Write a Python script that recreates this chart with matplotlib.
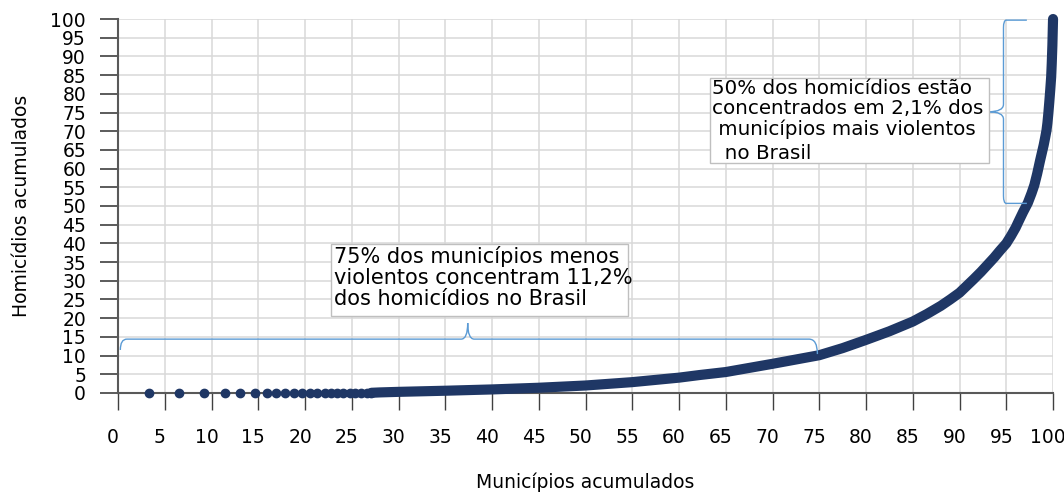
import matplotlib.pyplot as plt
from matplotlib.path import Path
from matplotlib.patches import PathPatch, Rectangle
from matplotlib.transforms import ScaledTranslation

# pontos isolados no inicio da curva (homicidios ~ 0)
dots_x = [3.35, 6.56, 9.2, 11.4, 13.1, 14.6, 15.9, 16.9, 17.9, 18.8, 19.7,
          20.5, 21.3, 22.1, 22.8, 23.4, 24.1, 24.8, 25.4, 26.0, 26.6, 27.1]
dots_y = [0.0] * len(dots_x)

# parte densa da curva
curve_x = [27.1, 28.0, 30, 35, 40, 45, 50, 55, 60, 62.2, 65, 70, 75, 77.5, 80,
           82.5, 85, 86.5, 88, 89, 90, 91.5, 92.3, 93, 93.7, 94.3, 95, 95.5,
           96, 96.3, 96.8, 97.3, 97.7, 98, 98.3, 98.6, 99.0, 99.15, 99.3, 99.4,
           99.5, 99.6, 99.7, 99.8, 99.86, 99.93, 100]
curve_y = [0.05, 0.15, 0.3, 0.6, 0.95, 1.4, 2.0, 2.9, 4.1, 4.8, 5.6, 7.8, 10.1,
           12.0, 14.2, 16.5, 19.1, 21.1, 23.3, 25.0, 26.8, 30.4, 32.4, 34.3,
           36.2, 38.0, 40.0, 42.0, 44.2, 45.8, 48.4, 50.8, 53.4, 55.6, 58.6,
           62.0, 66.3, 68.2, 70.2, 72.2, 74.8, 77.8, 81.0, 84.5, 88.0, 93.0, 100]

ticks = list(range(0, 101, 5))

txt_municipios = '75% dos municípios menos\nviolentos concentram 11,2%\ndos homicídios no Brasil'
txt_homicidios = '50% dos homicídios estão\nconcentrados em 2,1% dos\n municípios mais violentos'
txt_brasil = '  no Brasil'

navy = '#1F3765'
brace_c = '#5B9BD5'
grid_c = '#D9D9D9'
axis_c = '#595959'

plt.rcParams['font.family'] = 'DejaVu Sans'

fig = plt.figure(figsize=(10.64, 4.94), dpi=100)
ax = fig.add_axes([0.1109, 0.2045, 0.8788, 0.757])

ax.set_xlim(0, 100)
ax.set_ylim(0, 100)
ax.set_xticks(ticks)
ax.set_yticks(ticks)
ax.grid(True, color=grid_c, linewidth=1.1)
ax.set_axisbelow(True)
for s in ['top', 'right']:
    ax.spines[s].set_visible(False)
for s in ['left', 'bottom']:
    ax.spines[s].set_color(axis_c)
    ax.spines[s].set_linewidth(1.5)
ax.tick_params(axis='x', direction='out', length=12.5, width=1, color='#404040',
               pad=13, labelsize=13.5, labelcolor='black')
ax.tick_params(axis='y', direction='out', length=13, width=1.2, color='#404040',
               pad=10, labelsize=13.5, labelcolor='black')
# rotulos do eixo x levemente deslocados para a esquerda
for lbl in ax.get_xticklabels():
    lbl.set_transform(lbl.get_transform() + ScaledTranslation(-5 / 100, 0, fig.dpi_scale_trans))

ax.set_xlabel('Municípios acumulados', fontsize=13.5, labelpad=18)
ax.set_ylabel('Homicídios acumulados', fontsize=13.5, labelpad=14)

# curva
ax.plot(dots_x, dots_y, 'o', color=navy, markersize=6, clip_on=False, zorder=3)
ax.plot(curve_x, curve_y, '-', color=navy, linewidth=7.3, solid_capstyle='round',
        solid_joinstyle='round', clip_on=False, zorder=3)

# chave horizontal (75% dos municipios)
y0, r, ry = 14.4, 0.7, 2.0
tip = 37.4
verts = [(0.25, 11.5), (0.25, y0), (0.25 + r, y0),
         (tip - r, y0), (tip, y0), (tip, 18.7),
         (tip, y0), (tip + r, y0),
         (74.6 - r, y0), (74.8, y0), (74.8, 10.4)]
codes = [Path.MOVETO, Path.CURVE3, Path.CURVE3,
         Path.LINETO, Path.CURVE3, Path.CURVE3,
         Path.CURVE3, Path.CURVE3,
         Path.LINETO, Path.CURVE3, Path.CURVE3]
ax.add_patch(PathPatch(Path(verts, codes), fill=False, edgecolor=brace_c,
                       linewidth=1.0, zorder=4))

# chave vertical (50% dos homicidios)
bx, rx = 94.7, 0.3
verts = [(97.2, 99.7), (bx + rx, 99.7), (bx, 99.7), (bx, 99.7 - ry),
         (bx, 75.2 + ry), (bx, 75.2), (93.1, 75.2),
         (bx, 75.2), (bx, 75.2 - ry),
         (bx, 50.7 + ry), (bx, 50.7), (bx + rx, 50.7), (97.2, 50.7)]
codes = [Path.MOVETO, Path.LINETO, Path.CURVE3, Path.CURVE3,
         Path.LINETO, Path.CURVE3, Path.CURVE3,
         Path.CURVE3, Path.CURVE3,
         Path.LINETO, Path.CURVE3, Path.CURVE3, Path.LINETO]
ax.add_patch(PathPatch(Path(verts, codes), fill=False, edgecolor=brace_c,
                       linewidth=1.0, zorder=4))

# caixas de texto
ax.add_patch(Rectangle((22.8, 20.6), 31.7, 19.2, facecolor='white',
                       edgecolor='#BFBFBF', linewidth=1.0, zorder=5))
ax.text(23.1, 39.4, txt_municipios, ha='left', va='top', fontsize=15,
        linespacing=1.08, zorder=6)

ax.add_patch(Rectangle((63.3, 61.4), 29.8, 22.9, facecolor='white',
                       edgecolor='#BFBFBF', linewidth=1.0, zorder=5))
ax.text(63.5, 84.0, txt_homicidios, ha='left', va='top', fontsize=14.3,
        linespacing=1.08, zorder=6)
ax.text(63.5, 64.1, txt_brasil, ha='left', va='center', fontsize=14.3, zorder=6)

fig.savefig('out.png', dpi=100)
